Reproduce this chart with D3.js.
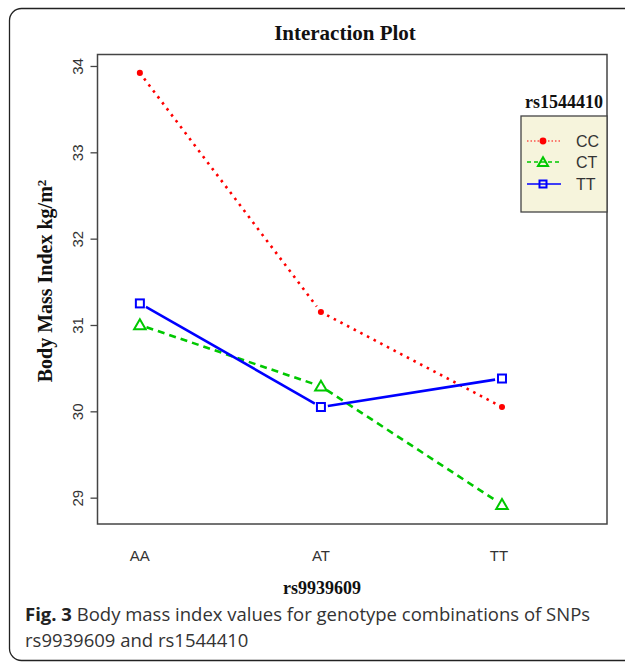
<!DOCTYPE html>
<html>
<head>
<meta charset="utf-8">
<script src="https://cdn.jsdelivr.net/npm/d3@7"></script>
<style>
  body { margin: 0; background: #fff; }
  svg { display: block; }
</style>
</head>
<body>
<div id="chart"></div>
<script>
// rs9939609 genotypes on the x axis, rs1544410 genotypes as traces
const xCategories = ["AA", "AT", "TT"];
const traceNames = ["CC", "CT", "TT"];
const ccValues = [33.92, 31.15, 30.05];
const ctValues = [31.0, 30.29, 28.92];
const ttValues = [31.25, 30.05, 30.38];
const yTicks = [29, 30, 31, 32, 33, 34];

const width = 625, height = 664;
const plot = {left: 97.5, top: 54.5, right: 607, bottom: 524};

const svg = d3.select('#chart').append('svg')
  .attr('width', width)
  .attr('height', height);

// outer figure frame
svg.append('rect')
  .attr('x', 9.5).attr('y', 8.5)
  .attr('width', 640).attr('height', 652)
  .attr('rx', 12)
  .attr('fill', 'none')
  .attr('stroke', '#222')
  .attr('stroke-width', 1.3);

const xScale = d3.scaleLinear()
  .domain([0.766, 3.58])
  .range([plot.left, plot.right]);
const yScale = d3.scaleLinear()
  .domain([28.695, 34.133])
  .range([plot.bottom, plot.top]);

const series = [
  {name: traceNames[0], values: ccValues, color: '#ff0000', dash: '2.5,5', marker: 'dot'},
  {name: traceNames[1], values: ctValues, color: '#00c800', dash: '7,5', marker: 'triangle'},
  {name: traceNames[2], values: ttValues, color: '#0000ff', dash: null, marker: 'square'}
];

// y axis
const yAxis = d3.axisLeft(yScale).tickValues(yTicks).tickSize(7).tickFormat(d3.format('d'));
const gy = svg.append('g')
  .attr('transform', `translate(${plot.left},0)`)
  .call(yAxis);
gy.select('.domain').remove();
gy.selectAll('.tick line').attr('stroke', '#444').attr('stroke-width', 1.3);
gy.selectAll('.tick text')
  .attr('x', 0).attr('y', 0)
  .attr('transform', 'translate(-20,0) rotate(-90)')
  .attr('text-anchor', 'middle')
  .attr('dy', '0.35em')
  .style('font-family', '"Liberation Sans", Arial, sans-serif')
  .style('font-size', '15px')
  .attr('fill', '#333');

// x tick labels (no tick marks)
svg.selectAll('.xlab')
  .data(xCategories)
  .enter().append('text')
  .attr('class', 'xlab')
  .attr('x', (d, i) => xScale(i + 1) - (i === 2 ? 3 : 0))
  .attr('y', 561)
  .attr('text-anchor', 'middle')
  .style('font-family', '"Liberation Sans", Arial, sans-serif')
  .style('font-size', '15px')
  .attr('fill', '#333')
  .text(d => d);

// plot box
svg.append('rect')
  .attr('x', plot.left).attr('y', plot.top)
  .attr('width', plot.right - plot.left)
  .attr('height', plot.bottom - plot.top)
  .attr('fill', 'none')
  .attr('stroke', '#444')
  .attr('stroke-width', 1.5);

// titles
svg.append('text')
  .attr('x', 345).attr('y', 40)
  .attr('text-anchor', 'middle')
  .style('font-family', '"Liberation Serif", "Times New Roman", serif')
  .style('font-weight', 'bold')
  .style('font-size', '21px')
  .attr('fill', '#111')
  .text('Interaction Plot');

svg.append('text')
  .attr('x', 322).attr('y', 594)
  .attr('text-anchor', 'middle')
  .style('font-family', '"Liberation Serif", "Times New Roman", serif')
  .style('font-weight', 'bold')
  .style('font-size', '18px')
  .attr('fill', '#111')
  .text('rs9939609');

const ytitle = svg.append('text')
  .attr('transform', 'translate(52,281) rotate(-90)')
  .attr('text-anchor', 'middle')
  .style('font-family', '"Liberation Serif", "Times New Roman", serif')
  .style('font-weight', 'bold')
  .style('font-size', '20px')
  .attr('fill', '#111');
ytitle.append('tspan').text('Body Mass Index kg/m');
ytitle.append('tspan').attr('dy', '-0.45em').style('font-size', '13px').text('2');

// markers
function drawMarker(g, type, color, x, y, s) {
  if (type === 'dot') {
    g.append('circle').attr('cx', x).attr('cy', y).attr('r', s * 0.38)
      .attr('fill', color);
  } else if (type === 'triangle') {
    const sym = d3.symbol().type(d3.symbolTriangle).size(s * s * 0.9);
    g.append('path').attr('d', sym()).attr('transform', `translate(${x},${y + 1})`)
      .attr('fill', 'none').attr('stroke', color).attr('stroke-width', 2);
  } else {
    g.append('rect').attr('x', x - s / 2).attr('y', y - s / 2)
      .attr('width', s).attr('height', s)
      .attr('fill', 'none').attr('stroke', color).attr('stroke-width', 2);
  }
}

// traces, drawn like type = "b": segments stop short of the points
const gap = 7;
const lines = svg.append('g');
series.forEach(s => {
  const pts = s.values.map((v, i) => [xScale(i + 1), yScale(v)]);
  for (let i = 0; i < pts.length - 1; i++) {
    const [x1, y1] = pts[i], [x2, y2] = pts[i + 1];
    const len = Math.hypot(x2 - x1, y2 - y1);
    const ux = (x2 - x1) / len, uy = (y2 - y1) / len;
    lines.append('line')
      .attr('x1', x1 + ux * gap).attr('y1', y1 + uy * gap)
      .attr('x2', x2 - ux * gap).attr('y2', y2 - uy * gap)
      .attr('stroke', s.color)
      .attr('stroke-width', 2.6)
      .attr('stroke-dasharray', s.dash);
  }
  pts.forEach(p => drawMarker(lines, s.marker, s.color, p[0], p[1], 8));
});

// legend
svg.append('text')
  .attr('x', 564).attr('y', 108)
  .attr('text-anchor', 'middle')
  .style('font-family', '"Liberation Serif", "Times New Roman", serif')
  .style('font-weight', 'bold')
  .style('font-size', '18px')
  .attr('fill', '#111')
  .text('rs1544410');

svg.append('rect')
  .attr('x', 521).attr('y', 116)
  .attr('width', plot.right - 521).attr('height', 96)
  .attr('fill', '#f6f4dc')
  .attr('stroke', '#444')
  .attr('stroke-width', 1.3);

const legendRows = [141, 162, 184];
series.forEach((s, i) => {
  const y = legendRows[i];
  svg.append('line')
    .attr('x1', 527).attr('x2', 561).attr('y1', y).attr('y2', y)
    .attr('stroke', s.color)
    .attr('stroke-width', s.marker === 'dot' ? 1.2 : 1.6)
    .attr('stroke-dasharray', s.marker === 'dot' ? '1.5,2' : (s.dash ? '4,3' : null));
  drawMarker(svg, s.marker, s.color, 543, y, s.marker === 'dot' ? 9 : 7);
  svg.append('text')
    .attr('x', 576).attr('y', y).attr('dy', '0.35em')
    .style('font-family', '"Liberation Sans", Arial, sans-serif')
    .style('font-size', '16px')
    .attr('fill', '#333')
    .text(s.name);
});

// caption
const caption = svg.append('g')
  .style('font-family', '"Open Sans", "Noto Sans", sans-serif')
  .style('font-size', '18.5px')
  .attr('fill', '#333');
const cap1 = caption.append('text').attr('x', 25).attr('y', 621);
cap1.append('tspan').style('font-weight', 'bold').attr('fill', '#222').text('Fig. 3');
cap1.append('tspan').text(' Body mass index values for genotype combinations of SNPs');
caption.append('text').attr('x', 25).attr('y', 647).text('rs9939609 and rs1544410');
</script>
</body>
</html>
